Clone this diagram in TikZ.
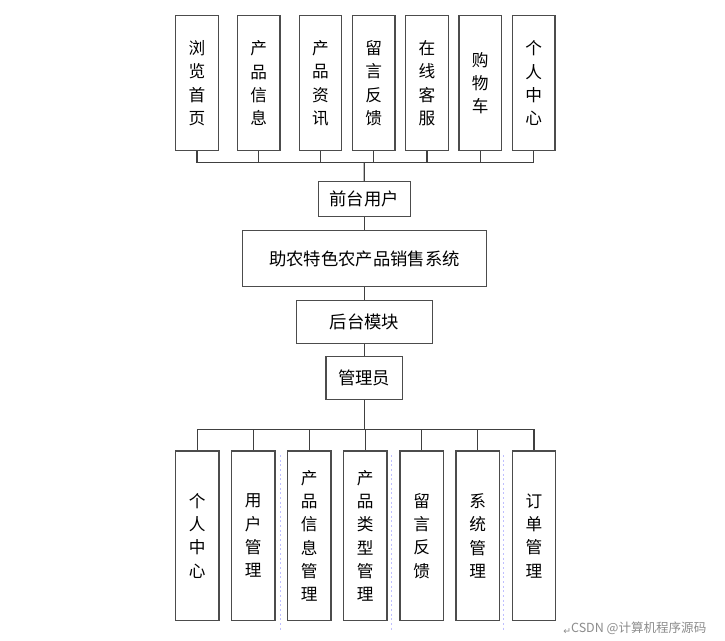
\documentclass[tikz,border=0pt]{standalone}
\usepackage{fontspec}
\setmainfont{Noto Sans CJK SC}
\newfontfamily\cjk{Noto Sans CJK SC}
\newfontfamily\symfont{DejaVu Sans}
\begin{document}
\begin{tikzpicture}[x=0.75pt,y=-0.75pt,
  boxline/.style={draw=black!70, line width=0.9pt, fill=white},
  vbox/.style={boxline, minimum width=31.9pt, inner sep=0pt, align=center,
     font=\cjk\fontsize{12.5pt}{17.5pt}\selectfont},
  topbox/.style={vbox, minimum height=101.3pt},
  botbox/.style={vbox, minimum width=32.5pt, minimum height=127.3pt},
  hbox/.style={boxline, inner sep=0pt, font=\cjk\fontsize{13pt}{15pt}\selectfont},
  conn/.style={draw=black!75, line width=0.9pt},
  guide/.style={draw=blue!25, line width=0.5pt, dashed, dash pattern=on 1.5pt off 2pt}
]
\useasboundingbox (0,0) rectangle (725,640);
\fill[white] (0,0) rectangle (725,640);

% faint guides in the lower part
\draw[guide] (280,455) -- (280,632);
\draw[guide] (391.7,455) -- (391.7,632);
\draw[guide] (503.3,455) -- (503.3,632);

% top boxes
\node[topbox] (t1) at (197,83.2) {浏\\览\\首\\页};
\node[topbox] (t2) at (258.8,83.2) {产\\品\\信\\息};
\node[topbox] (t3) at (320.5,83.2) {产\\品\\资\\讯};
\node[topbox] (t4) at (373.8,83.2) {留\\言\\反\\馈};
\node[topbox] (t5) at (427,83.2) {在\\线\\客\\服};
\node[topbox] (t6) at (480.3,83.2) {购\\物\\车};
\node[topbox] (t7) at (533.8,83.2) {个\\人\\中\\心};

% middle boxes
\node[hbox, minimum width=69pt, minimum height=26.2pt] (front) at (364.2,199.2) {前台用户};
\node[hbox, minimum width=183.3pt, minimum height=42pt] (sys) at (364.5,258.7) {助农特色农产品销售系统};
\node[hbox, minimum width=101.7pt, minimum height=32pt] (back) at (364.5,322) {后台模块};
\node[hbox, minimum width=57.5pt, minimum height=32pt] (admin) at (364.3,378) {管理员};

% bottom boxes
\node[botbox] (b1) at (197.3,535.8) {个\\人\\中\\心};
\node[botbox] (b2) at (253.3,535.8) {用\\户\\管\\理};
\node[botbox] (b3) at (309.3,535.8) {产\\品\\信\\息\\管\\理};
\node[botbox] (b4) at (365.3,535.8) {产\\品\\类\\型\\管\\理};
\node[botbox] (b5) at (421.7,535.8) {留\\言\\反\\馈};
\node[botbox] (b6) at (477.7,535.8) {系\\统\\管\\理};
\node[botbox] (b7) at (534,535.8) {订\\单\\管\\理};

% buses
\coordinate (topbus) at (364.3,162.3);
\coordinate (botbus) at (364.8,429.3);

\foreach \n in {t1,t2,t3,t4,t5,t6,t7}
  \draw[conn] (\n.south) |- (topbus);
\draw[conn] (topbus) -- (front.north);
\draw[conn] (front.south) -- (front.south |- sys.north);
\draw[conn] (sys.south -| back.north) -- (back.north);
\draw[conn] (back.south) -- (back.south |- admin.north);
\draw[conn] (admin.south -| botbus) -- (botbus);
\foreach \n in {b1,b2,b3,b4,b5,b6,b7}
  \draw[conn] (botbus) -| (\n.north);

% watermark
\node[anchor=west, inner sep=0pt, text=black!45, font=\cjk\fontsize{9.4pt}{10pt}\selectfont] (wm) at (563,628.5) {\raisebox{-0.2ex}{\symfont\fontsize{7pt}{8pt}\selectfont ↵}CSDN @计算机程序源码};
\end{tikzpicture}
\end{document}
